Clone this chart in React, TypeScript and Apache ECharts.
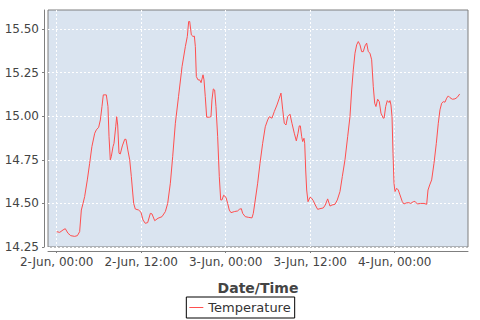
import React, { useEffect, useRef } from "react";
import * as echarts from "echarts";

// hours after 2-Jun 00:00
const hours: number[] = [
  0.0, 0.43, 0.9, 1.22, 1.6, 2.0, 2.55, 2.93, 3.26, 3.5, 3.74, 3.97, 4.35, 4.68, 5.0, 5.4, 5.63, 5.96, 6.2, 6.43,
  6.62, 7.05, 7.28, 7.43, 7.61, 7.75, 8.0, 8.14, 8.38, 8.52, 8.66, 8.85, 9.03, 9.32, 9.66, 9.84, 10.1, 10.37, 10.6, 10.8,
  10.93, 11.16, 11.64, 11.97, 12.26, 12.58, 12.92, 13.3, 13.53, 13.92, 14.39, 14.95, 15.43, 15.76, 16.14, 16.47, 16.85, 17.3, 17.8, 18.27,
  18.55, 18.74, 18.89, 19.12, 19.36, 19.55, 19.69, 19.83, 20.07, 20.3, 20.5, 20.78, 20.92, 21.1, 21.3, 21.67, 21.91, 22.05, 22.24, 22.43,
  22.62, 22.86, 23.09, 23.29, 23.47, 23.71, 24.04, 24.28, 24.51, 24.75, 25.22, 25.7, 25.93, 26.22, 26.41, 26.78, 27.27, 27.73, 27.92, 28.2,
  28.54, 28.87, 29.25, 29.62, 29.96, 30.19, 30.57, 30.9, 31.28, 31.61, 31.85, 32.1, 32.32, 32.56, 32.8, 33.13, 33.41, 33.74, 34.03, 34.27,
  34.45, 34.6, 34.79, 34.93, 35.12, 35.22, 35.36, 35.5, 35.69, 35.97, 36.2, 36.44, 36.72, 37.06, 37.39, 37.86, 38.14, 38.48, 38.81, 39.1,
  39.52, 39.85, 40.23, 40.56, 40.94, 41.32, 41.65, 41.89, 42.12, 42.36, 42.6, 42.83, 43.07, 43.31, 43.54, 43.78, 44.02, 44.25, 44.49, 44.73,
  44.96, 45.16, 45.34, 45.58, 45.81, 46.05, 46.38, 46.5, 46.72, 46.95, 47.19, 47.33, 47.47, 47.62, 47.76, 47.9, 48.04, 48.28, 48.51, 48.75,
  49.08, 49.32, 49.7, 50.03, 50.27, 50.64, 50.88, 51.21, 51.69, 52.16, 52.54, 52.73, 52.97, 53.25, 53.58, 53.91, 54.19, 54.43, 54.67, 54.9,
  55.14, 55.38, 55.61, 55.85, 56.18, 56.56, 56.89, 57.23,
];

const temperature: number[] = [
  14.338, 14.334, 14.348, 14.355, 14.329, 14.315, 14.311, 14.315, 14.338, 14.462, 14.5, 14.539, 14.635, 14.73, 14.826, 14.903, 14.922, 14.937, 14.979, 15.056,
  15.123, 15.123, 15.056, 14.883, 14.75, 14.768, 14.826, 14.845, 14.94, 14.998, 14.95, 14.788, 14.784, 14.83, 14.868, 14.868, 14.807, 14.75, 14.654, 14.56,
  14.5, 14.468, 14.462, 14.449, 14.405, 14.386, 14.39, 14.443, 14.44, 14.401, 14.415, 14.424, 14.453, 14.5, 14.616, 14.768, 14.96, 15.113, 15.285, 15.4,
  15.458, 15.544, 15.544, 15.467, 15.458, 15.46, 15.4, 15.228, 15.209, 15.209, 15.193, 15.238, 15.209, 15.113, 14.995, 14.995, 14.998, 15.094, 15.157, 15.151,
  15.056, 14.883, 14.654, 14.52, 14.52, 14.547, 14.535, 14.5, 14.462, 14.447, 14.453, 14.457, 14.466, 14.47, 14.443, 14.424, 14.42, 14.417, 14.443, 14.52,
  14.616, 14.73, 14.845, 14.94, 14.979, 14.998, 14.989, 15.027, 15.065, 15.104, 15.133, 15.037, 14.96, 14.95, 14.998, 15.012, 14.96, 14.903, 14.859, 14.903,
  14.945, 14.945, 14.883, 14.855, 14.874, 14.845, 14.692, 14.577, 14.51, 14.535, 14.53, 14.516, 14.491, 14.466, 14.47, 14.474, 14.491, 14.526, 14.485, 14.491,
  14.495, 14.52, 14.568, 14.654, 14.75, 14.883, 14.998, 15.151, 15.266, 15.362, 15.41, 15.429, 15.41, 15.371, 15.371, 15.404, 15.42, 15.371, 15.362, 15.324,
  15.17, 15.075, 15.056, 15.098, 15.084, 15.018, 14.989, 14.99, 15.056, 15.09, 15.079, 15.09, 15.065, 14.998, 14.788, 14.616, 14.568, 14.587, 14.577, 14.549,
  14.51, 14.497, 14.504, 14.504, 14.5, 14.51, 14.512, 14.497, 14.5, 14.5, 14.495, 14.577, 14.606, 14.635, 14.73, 14.845, 14.96, 15.037, 15.075, 15.084,
  15.081, 15.104, 15.117, 15.107, 15.098, 15.1, 15.109, 15.128,
];

const xTicks: number[] = [0, 12, 24, 36, 48];
const yTicks: number[] = [14.25, 14.5, 14.75, 15.0, 15.25, 15.5];

const seriesName = "Temperature";
const xAxisTitle = "Date/Time";

function fmtHour(h: number): string {
  const day = 2 + Math.floor(h / 24);
  const hh = Math.round(h % 24);
  return `${day}-Jun, ${hh < 10 ? "0" + hh : hh}:00`;
}

export default function App() {
  const ref = useRef<HTMLDivElement>(null);
  useEffect(() => {
    if (!ref.current) return;
    const chart = echarts.init(ref.current, null, { renderer: "svg" });
    const font = "'DejaVu Sans', sans-serif";
    const lineColor = "#ff4f4f";
    chart.setOption({
      animation: false,
      textStyle: { fontFamily: font },
      grid: {
        left: 48,
        top: 10,
        right: 12,
        bottom: 73,
        show: true,
        backgroundColor: "#dae4f0",
        borderColor: "#7f7f7f",
        borderWidth: 1,
      },
      legend: {
        data: [{ name: seriesName, icon: "rect" }],
        left: "center",
        bottom: 2,
        padding: [3, 4, 3, 3],
        borderColor: "#000",
        borderWidth: 1,
        borderRadius: 0,
        itemWidth: 14,
        itemHeight: 1,
        itemGap: 5,
        itemStyle: { color: lineColor },
        textStyle: { fontFamily: font, fontSize: 13, color: "#333", lineHeight: 15 },
      },
      xAxis: {
        type: "value",
        min: -1.235,
        max: 58.41,
        offset: 4,
        name: xAxisTitle,
        nameLocation: "middle",
        nameGap: 30,
        nameTextStyle: { fontFamily: font, fontSize: 14, fontWeight: "bold", color: "#444" },
        axisLine: { show: true, onZero: false, lineStyle: { color: "#7f7f7f", width: 1 } },
        axisTick: { show: true, length: 2, customValues: xTicks, lineStyle: { color: "#7f7f7f" } },
        axisLabel: {
          customValues: xTicks,
          formatter: (v: number) => fmtHour(v),
          fontFamily: font,
          fontSize: 12,
          color: "#444",
          margin: 5,
        },
        splitLine: { show: true, lineStyle: { color: "#ffffff", type: [2, 2], width: 1 } },
      },
      yAxis: {
        type: "value",
        min: 14.25,
        max: 15.61,
        interval: 0.25,
        offset: 4,
        axisLine: { show: true, onZero: false, lineStyle: { color: "#7f7f7f", width: 1 } },
        axisTick: { show: true, length: 2, customValues: yTicks, lineStyle: { color: "#7f7f7f" } },
        axisLabel: {
          customValues: yTicks,
          formatter: (v: number) => v.toFixed(2),
          fontFamily: font,
          fontSize: 12,
          color: "#444",
          margin: 5,
        },
        splitLine: { show: true, lineStyle: { color: "#ffffff", type: [2, 2], width: 1 } },
      },
      series: [
        {
          name: seriesName,
          type: "line",
          symbol: "none",
          showSymbol: false,
          data: hours.map((h, i) => [h, temperature[i]]),
          lineStyle: { color: lineColor, width: 1 },
          itemStyle: { color: lineColor },
        },
      ],
    });
    return () => chart.dispose();
  }, []);
  return <div ref={ref} style={{ width: 480, height: 320, position: "absolute", left: 0, top: 0 }} />;
}
